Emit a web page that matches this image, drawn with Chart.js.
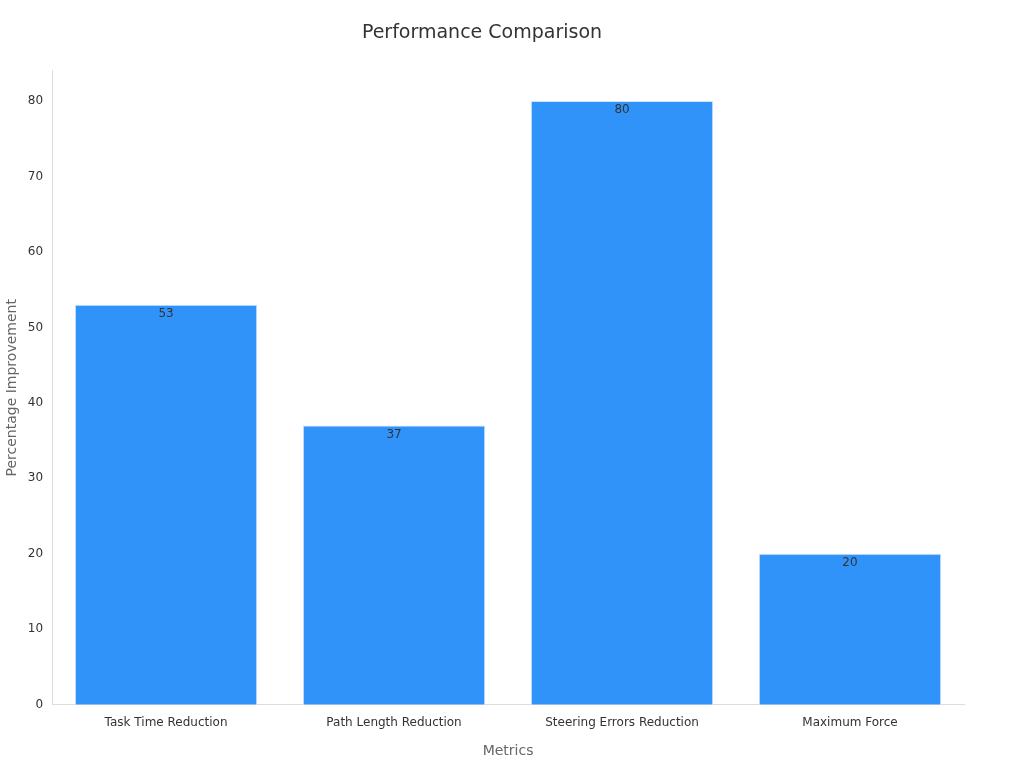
<!DOCTYPE html>
<html><head><meta charset="utf-8">
<script src="https://cdn.jsdelivr.net/npm/chart.js@4"></script>
<style>html,body{margin:0;background:#fff}#w{width:1024px;height:768px}</style>
</head><body><div id="w"><canvas id="c"></canvas></div>
<script>
const categories = ["Task Time Reduction","Path Length Reduction","Steering Errors Reduction","Maximum Force"];
const values = [53,37,80,20];
const yTicks = [0,10,20,30,40,50,60,70,80];
const labelPlugin = {id:'lbl',afterDatasetsDraw(ch){const ctx=ch.ctx;const m=ch.getDatasetMeta(0);ctx.save();ctx.font='12px "DejaVu Sans"';ctx.fillStyle='#333';ctx.textAlign='center';ctx.textBaseline='top';m.data.forEach((b,i)=>ctx.fillText(String(values[i]),b.x,b.y+3));ctx.restore();}};
new Chart(document.getElementById('c'),{type:'bar',
data:{labels:categories,datasets:[{data:values,backgroundColor:'#3093f9',borderColor:'#cfe3fb',borderWidth:1,barPercentage:0.8,categoryPercentage:1}]},
options:{responsive:true,maintainAspectRatio:false,animation:false,
layout:{padding:{left:0,right:60,top:10,bottom:4}},
plugins:{legend:{display:false},tooltip:{enabled:false},
title:{display:true,text:'Performance Comparison',color:'#333',font:{family:'DejaVu Sans',size:19,weight:'normal'},padding:{top:12,bottom:26}}},
scales:{x:{grid:{display:false,drawTicks:true},border:{color:'#ddd'},ticks:{color:'#333',font:{family:'DejaVu Sans',size:12}},
title:{display:true,text:'Metrics',color:'#666',font:{family:'DejaVu Sans',size:14},padding:{top:10}}},
y:{min:0,max:84,afterBuildTicks(a){a.ticks=yTicks.map(v=>({value:v}));},grid:{display:false,drawTicks:true,tickLength:6,tickColor:'#999'},border:{color:'#ddd'},
ticks:{color:'#333',font:{family:'DejaVu Sans',size:12}},
title:{display:true,text:'Percentage Improvement',color:'#666',font:{family:'DejaVu Sans',size:14}}}}},
plugins:[labelPlugin]});
</script></body></html>
